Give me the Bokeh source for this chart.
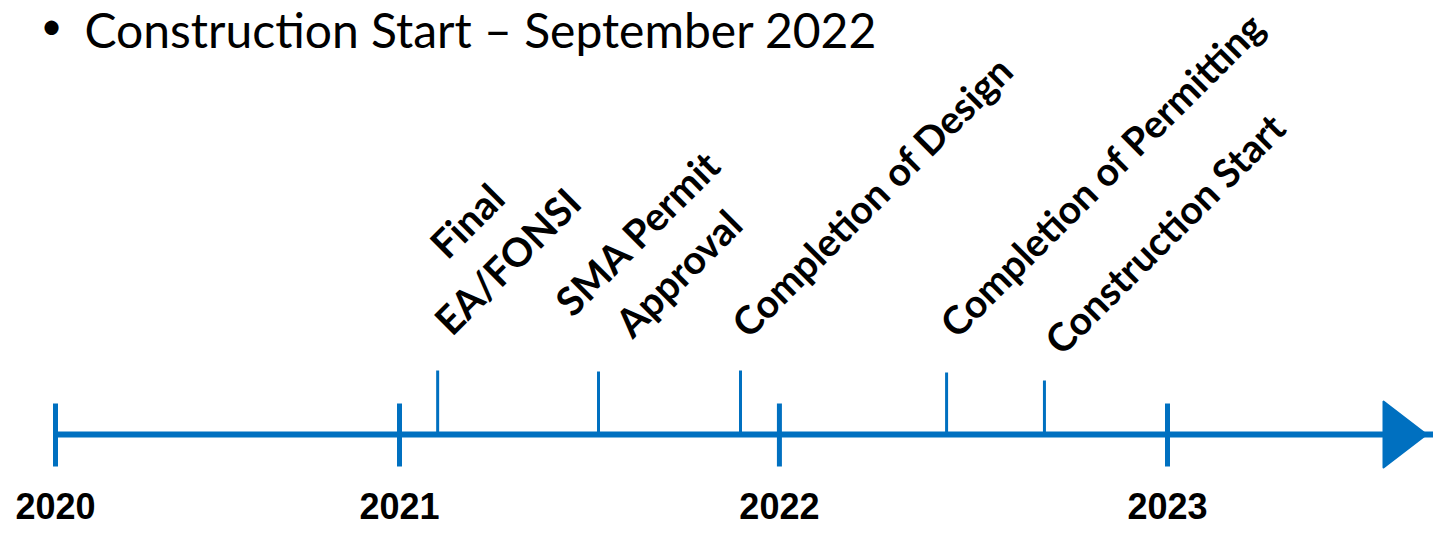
import math
from bokeh.plotting import figure
from bokeh.models import ColumnDataSource, Range1d
from bokeh.embed import file_html
from bokeh.resources import INLINE
from bokeh.core.properties import value

# ---- data ----
years = ["2020", "2021", "2022", "2023"]
year_pos = [2020.0, 2020.928, 2021.953, 2023.0]          # where each year mark sits on the drawn axis
milestones_two_line = ["Final\nEA/FONSI", "SMA Permit\nApproval"]
milestones_two_line_pos = [2021.031, 2021.465]
milestones_one_line = ["Completion of Design", "Completion of Permitting", "Construction Start"]
milestones_one_line_pos = [2021.848, 2022.404, 2022.668]
title_text = "Construction Start \u2013 September 2022"

# ---- layout / style ----
W, H = 1433, 526
PX_PER_YEAR = 370.667
X0 = 2020.0 - 55 / PX_PER_YEAR
X1 = X0 + W / PX_PER_YEAR
LINE_PY = 434                     # pixel row of the time line
BLUE = "#0070C0"
tick_two_line_h = [64, 63]
tick_one_line_h = [64, 62, 54]
two_line_dx = [49, 59]
two_line_dy = [-130, -119]
one_line_dx = [-2, 0, 7]
one_line_dy = [-41, -43, -34]
LABEL_FONT = "Lato"
LABEL_SIZE = "39px"


def px_to_x(px):
    return X0 + px / PX_PER_YEAR


def py_to_y(py):
    return LINE_PY - py


p = figure(width=W, height=H, output_backend="svg", toolbar_location=None,
           x_range=Range1d(X0, X1), y_range=Range1d(LINE_PY - H, LINE_PY),
           min_border=0, background_fill_color="white", border_fill_color="white")
p.axis.visible = False
p.grid.visible = False
p.outline_line_color = None

# main time line
p.segment(x0=[year_pos[0]], y0=[0], x1=[X1], y1=[0], line_color=BLUE, line_width=6, line_cap="butt")

# year ticks
p.segment(x0=year_pos, y0=[-32] * len(year_pos), x1=year_pos, y1=[31] * len(year_pos),
          line_color=BLUE, line_width=5, line_cap="butt")

# arrow head
arrow_base = px_to_x(1383)
arrow_tip = px_to_x(1426)
p.patch(x=[arrow_base, arrow_base, arrow_tip], y=[33, -33, 0], fill_color=BLUE,
        line_color=BLUE, line_width=2, line_join="round")

# milestone ticks
all_pos = milestones_two_line_pos + milestones_one_line_pos
all_h = tick_two_line_h + tick_one_line_h
p.segment(x0=all_pos, y0=[0] * len(all_pos), x1=all_pos, y1=all_h,
          line_color=BLUE, line_width=3, line_cap="butt")

# milestone labels
src2 = ColumnDataSource(dict(x=milestones_two_line_pos, y=tick_two_line_h, text=milestones_two_line,
                             dx=two_line_dx, dy=two_line_dy))
p.text(x="x", y="y", text="text", x_offset="dx", y_offset="dy", source=src2,
       angle=math.pi / 4, text_align="center", text_baseline="middle",
       text_font=value(LABEL_FONT), text_font_style="bold", text_font_size="39.5px",
       text_color="black", text_line_height=1.22)

src1 = ColumnDataSource(dict(x=milestones_one_line_pos, y=tick_one_line_h, text=milestones_one_line,
                             dx=one_line_dx, dy=one_line_dy))
p.text(x="x", y="y", text="text", x_offset="dx", y_offset="dy", source=src1,
       angle=math.pi / 4, text_align="left", text_baseline="alphabetic",
       text_font=value(LABEL_FONT), text_font_style="bold", text_font_size=LABEL_SIZE,
       text_color="black")

# year labels
p.text(x=year_pos, y=[py_to_y(505)] * len(year_pos), text=years, text_align="center",
       text_baseline="alphabetic", text_font=value("Liberation Sans"), text_font_style="bold",
       text_font_size="36px", text_color="black")

# title bullet line
p.text(x=[px_to_x(51)], y=[py_to_y(0)], text=["\u2022"], text_align="center", text_baseline="top",
       text_font=value("Lato"), text_font_size="38px", text_color="black")
p.text(x=[px_to_x(84)], y=[py_to_y(0)], text=[title_text], text_align="left", text_baseline="top",
       text_font=value("Lato"), text_font_size="48px", text_color="black")

open("out.html", "w").write(file_html(p, INLINE))
